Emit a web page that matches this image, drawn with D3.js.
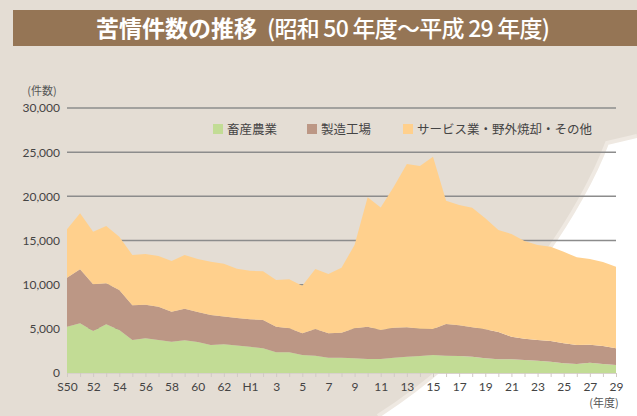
<!DOCTYPE html>
<html>
<head>
<meta charset="utf-8">
<script src="https://cdn.jsdelivr.net/npm/d3@7"></script>
<style>
  html, body { margin: 0; padding: 0; background: #e4ddd4; }
  svg { display: block; font-family: "Noto Sans CJK JP", "Noto Sans", sans-serif; }
</style>
</head>
<body>
<div id="chart"></div>
<script>
// 年度ラベル (S50 ~ H29)
const years = ['S50','51','52','53','54','55','56','57','58','59','60','61','62','63',
  'H1','2','3','4','5','6','7','8','9','10','11','12','13','14','15','16','17','18','19',
  '20','21','22','23','24','25','26','27','28','29']

const seriesNames = ['畜産農業', '製造工場', 'サービス業・野外焼却・その他']

// 件数 (読み取り値)
const livestock = [5240,5620,4750,5510,4870,3740,3930,3740,3540,3700,3510,3170,3260,3100,
  2980,2790,2340,2340,2040,1960,1740,1740,1660,1580,1580,1740,1850,1920,2040,1960,1920,
  1850,1660,1550,1550,1470,1400,1280,1100,1020,1170,1020,910]
const factory = [5550,6120,5290,4640,4530,3920,3800,3770,3400,3580,3390,3400,3150,3120,
  3100,3210,2900,2720,2450,3020,2750,2820,3400,3660,3290,3390,3320,3100,2940,3590,3480,
  3320,3280,3090,2560,2410,2340,2340,2260,2150,2030,2040,1880]
const others = [5480,6340,5960,6490,6030,5700,5740,5730,5740,6080,6000,6030,5970,5580,
  5500,5510,5290,5540,5400,6790,6720,7360,9430,14650,13880,15960,18490,18410,19510,13960,
  13620,13550,12570,11550,11620,11060,10750,10680,10370,9920,9700,9510,9250]

const yTicks = [0, 5000, 10000, 15000, 20000, 25000, 30000]

const colors = ['#c2dc95', '#bc9785', '#ffd08d']

const width = 637, height = 416

const svg = d3.select('#chart')
  .append('svg')
  .attr('width', width)
  .attr('height', height)

// background
svg.append('rect')
  .attr('width', width).attr('height', height)
  .attr('fill', '#e4ddd4')

svg.append('path')
  .attr('d', 'M637,136 L607,143 C586,200 512,330 378,416 L637,416 Z')
  .attr('fill', '#ffffff')
svg.append('path')
  .attr('d', 'M637,136 L607,143 C586,200 512,330 378,416')
  .attr('fill', 'none')
  .attr('stroke', '#efe9e2')
  .attr('stroke-width', 4)

// title bar
svg.append('rect')
  .attr('x', 13).attr('y', 10)
  .attr('width', width - 13).attr('height', 36)
  .attr('fill', '#957555')

svg.append('text')
  .attr('x', 96).attr('y', 37)
  .attr('fill', '#fff')
  .style('font-size', '23px')
  .style('font-weight', 'bold')
  .text('苦情件数の推移')

svg.append('text')
  .attr('x', 267).attr('y', 37)
  .attr('fill', '#fff')
  .attr('textLength', 283)
  .attr('lengthAdjust', 'spacing')
  .style('font-size', '23px')
  .style('font-weight', '500')
  .text('(昭和 50 年度〜平成 29 年度)')

// scales
const xScale = d3.scaleLinear()
  .domain([0, years.length - 1])
  .range([67, 616])

const yScale = d3.scaleLinear()
  .domain([0, 30000])
  .range([373, 108])

// data table for stack
const table = years.map((y, i) => ({
  i: i,
  [seriesNames[0]]: livestock[i],
  [seriesNames[1]]: factory[i],
  [seriesNames[2]]: others[i]
}))

const stacked = d3.stack().keys(seriesNames)(table)

// grid
svg.append('g')
  .selectAll('line')
  .data(yTicks.filter(d => d > 0))
  .join('line')
  .attr('x1', 67).attr('x2', 616)
  .attr('y1', d => yScale(d)).attr('y2', d => yScale(d))
  .attr('stroke', '#8c8c8c')
  .attr('stroke-width', 1.5)

// areas
const area = d3.area()
  .x(d => xScale(d.data.i))
  .y0(d => yScale(d[0]))
  .y1(d => yScale(d[1]))

svg.append('g')
  .selectAll('path')
  .data(stacked)
  .join('path')
  .attr('d', area)
  .attr('fill', (d, i) => colors[i])

// y axis
const yAxis = d3.axisLeft(yScale)
  .tickValues(yTicks)
  .tickSize(0)
  .tickPadding(7)
  .tickFormat(d3.format(','))

svg.append('g')
  .attr('transform', 'translate(67,0)')
  .call(yAxis)
  .call(g => g.select('.domain').remove())
  .call(g => g.selectAll('text')
    .attr('fill', '#444')
    .style('font-size', '12px')
    .style('font-family', 'Lato, "Noto Sans", sans-serif'))

// x axis
const xAxis = d3.axisBottom(xScale)
  .tickValues(d3.range(years.length))
  .tickSize(4)
  .tickPadding(5)
  .tickFormat(i => i % 2 === 0 ? years[i] : '')

svg.append('g')
  .attr('transform', 'translate(0,373)')
  .call(xAxis)
  .call(g => g.select('.domain').attr('stroke', '#d8d2cc'))
  .call(g => g.selectAll('.tick line').attr('stroke', '#d0cac4'))
  .call(g => g.selectAll('text')
    .attr('fill', '#444')
    .style('font-size', '12px')
    .style('font-family', 'Lato, "Noto Sans", sans-serif'))

// unit labels
svg.append('text')
  .attr('x', 42).attr('y', 95)
  .attr('text-anchor', 'middle')
  .attr('fill', '#555')
  .style('font-size', '11px')
  .text('(件数)')

svg.append('text')
  .attr('x', 604).attr('y', 407)
  .attr('text-anchor', 'middle')
  .attr('fill', '#555')
  .style('font-size', '11px')
  .text('(年度)')

// legend
const legendX = [213, 307, 403]
const legend = svg.append('g')
  .selectAll('g')
  .data(seriesNames)
  .join('g')
  .attr('transform', (d, i) => `translate(${legendX[i]},124)`)

legend.append('rect')
  .attr('width', 10).attr('height', 10)
  .attr('fill', (d, i) => colors[i])

legend.append('text')
  .attr('x', 14).attr('y', 10)
  .attr('fill', '#444')
  .style('font-size', '12.5px')
  .text(d => d)
</script>
</body>
</html>
